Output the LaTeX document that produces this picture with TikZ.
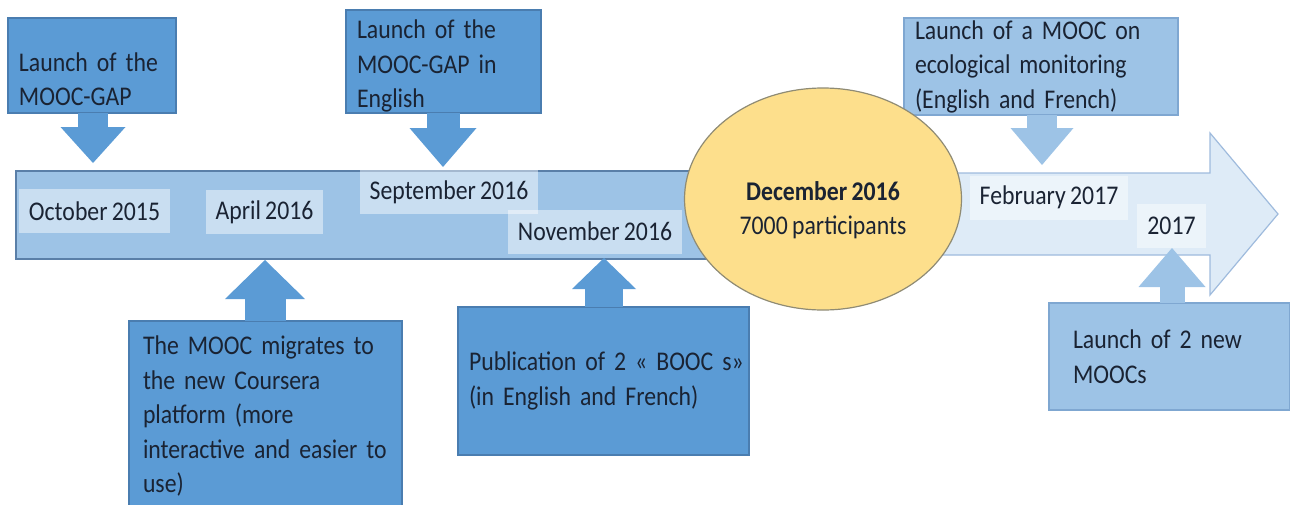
\documentclass[tikz,border=0pt]{standalone}
\usepackage{fontspec}
\setmainfont{Carlito}[FakeStretch=0.88, WordSpace=0.8]
\usetikzlibrary{arrows.meta,shapes.geometric}
\definecolor{boxblue}{HTML}{5B9BD5}
\definecolor{boxline}{HTML}{4A7DB0}
\definecolor{paleblue}{HTML}{9DC3E6}
\definecolor{paleline}{HTML}{7FA7D1}
\definecolor{barline}{HTML}{5A7FA8}
\definecolor{tailblue}{HTML}{DEEBF7}
\definecolor{tailline}{HTML}{9FBBDD}
\definecolor{sun}{HTML}{FDDF8C}
\definecolor{sunline}{HTML}{8F8B74}
\definecolor{ink}{HTML}{1A2333}
\begin{document}
\begin{tikzpicture}[x=1pt, y=-1pt,
    every node/.style={font=\fontsize{27}{34.5}\selectfont, text=ink},
    event/.style={draw=boxline, fill=boxblue, line width=1.2pt, align=left, inner xsep=11pt, inner ysep=0pt},
    paleevent/.style={event, draw=paleline, fill=paleblue},
    date/.style={fill=white, fill opacity=0.45, text opacity=1, inner xsep=10pt, minimum height=44pt},
    pointer/.style n args={3}{line width=#1, shorten <=-1pt, -{Triangle[width=#2, length=#3, line width=0pt]}}]
    \useasboundingbox (0,0) rectangle (1290,504);
    \clip (0,0) rectangle (1290,504);

    \node (bar) [draw=barline, fill=paleblue, line width=1.2pt, minimum width=744pt, minimum height=88pt, inner sep=0pt] at (388,215) {};
    \draw[draw=tailline, fill=tailblue, line width=1.2pt] (880,173) -- (1210,173) -- (1210,133) -- (1278,214) -- (1210,295) -- (1210,255) -- (880,255) -- cycle;

    \node (oct) [date] at (94.5,211) {October 2015};
    \node (apr) [date] at (264.5,212) {April 2016};
    \node (sep) [date] at (449,192) {September 2016};
    \node (nov) [date] at (595,231.5) {November 2016};
    \node (feb) [date] at (1049,197.5) {February 2017};
    \node (yr) [date] at (1171.5,225.5) {2017};

    \node (gap) [event, text width=146pt, minimum height=95pt] at (92,65.5) {\rule{0pt}{46pt}Launch of the\\MOOC-GAP};
    \node (eng) [event, text width=173pt, minimum height=103pt] at (443.5,61.5) {\rule{0pt}{28pt}Launch of the\\MOOC-GAP in\\English};
    \node (eco) [paleevent, text width=252pt, minimum height=97pt] at (1041,66.5) {Launch of a MOOC on\\ecological monitoring\\(English and French)};
    \node (crs) [event, inner xsep=14pt, text width=245pt, minimum height=190pt] at (265.5,416) {The MOOC migrates to\\the new Coursera\\platform (more\\interactive and easier to\\use)};
    \node (booc) [event, text width=269pt, minimum height=148pt] at (603.5,381) {\mbox{Publication of 2 « BOOC s»}\\(in English and French)};
    \node (new) [paleevent, inner xsep=24pt, text width=193pt, minimum height=107pt] at (1169.5,356.5) {Launch of 2 new\\MOOCs};

    \coordinate (tipgap) at (93,163);
    \coordinate (tipeng) at (443,167);
    \coordinate (tipeco) at (1042,165);
    \coordinate (tipcrs) at (265,260);
    \coordinate (tipbooc) at (604,258);
    \coordinate (tipnew) at (1172,248);

    \draw[boxblue, pointer={30pt}{65pt}{36pt}] (gap.south -| tipgap) -- (tipgap);
    \draw[boxblue, pointer={33pt}{67pt}{39pt}] (eng.south -| tipeng) -- (tipeng);
    \draw[paleblue, pointer={30pt}{63pt}{37pt}] (eco.south -| tipeco) -- (tipeco);
    \draw[boxblue, pointer={41pt}{80pt}{39pt}] (crs.north -| tipcrs) -- (tipcrs);
    \draw[boxblue, pointer={38pt}{64pt}{31pt}] (booc.north -| tipbooc) -- (tipbooc);
    \draw[paleblue, pointer={25pt}{67pt}{39pt}] (new.north -| tipnew) -- (tipnew);

    \node (dec) [ellipse, draw=sunline, fill=sun, line width=1.2pt, minimum width=277pt, minimum height=222pt, inner sep=0pt] at (823,199) {};
    \node (dectext) [align=center] at ([yshift=-11pt]dec.center) {\textbf{December 2016}\\7000 participants};
\end{tikzpicture}
\end{document}
